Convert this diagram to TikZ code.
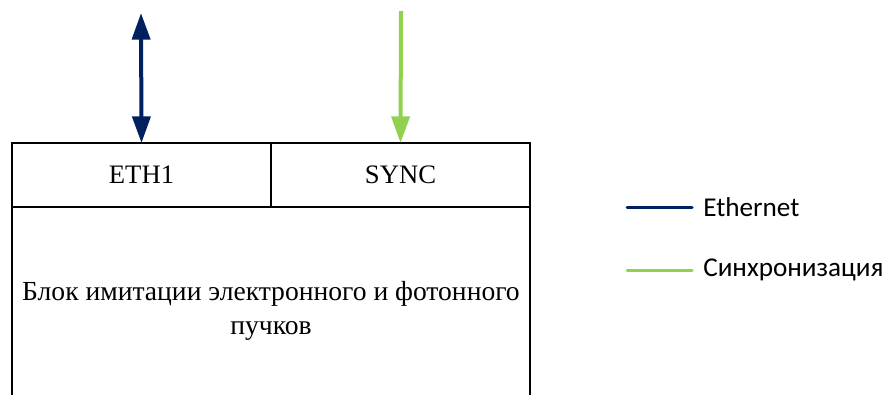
\documentclass[tikz,border=0pt]{standalone}
\usepackage{fontspec}
\setmainfont{Liberation Serif}
\newfontfamily\legendfont{Carlito}
\usetikzlibrary{arrows.meta,positioning}
\definecolor{ethblue}{HTML}{002060}
\definecolor{syncgreen}{HTML}{92D050}
\tikzset{
  >={Triangle[width=13.5pt,length=20pt]},
  port/.style={draw, line width=0.9pt, outer sep=0pt, inner sep=0pt,
    minimum width=194.25pt, minimum height=48pt,
    font=\fontsize{20}{24}\selectfont},
  ethlink/.style={ethblue, line width=3pt},
  synclink/.style={syncgreen, line width=3pt},
  keyline/.style={line width=2.25pt, line cap=round},
  legendtext/.style={anchor=west, inner xsep=8.25pt,
    font=\legendfont\fontsize{20.4}{23}\selectfont}
}
\begin{document}
\begin{tikzpicture}[x=0.75pt,y=-0.75pt]
  \useasboundingbox (0,0) rectangle (884,394);
  \clip (0,0) rectangle (884,394);
  % ports on top of the block
  \node[port,anchor=north west] (eth) at (12,143) {ETH1};
  \node[port,right=0pt of eth] (sync) {SYNC};
  % block body, open at the bottom
  \draw[line width=0.9pt] (eth.south west) -- ++(0,220);
  \draw[line width=0.9pt] (sync.south east) -- ++(0,220);
  \node[align=center, font=\fontsize{20.7}{25.8}\selectfont] (block) at (271,311)
    {Блок имитации электронного и фотонного\\пучков};
  % links
  \coordinate (ethtop) at (141,13);
  \coordinate (synctop) at (401,11);
  \draw[ethlink, <->] (ethtop) -- (eth.north);
  \draw[synclink, ->] (synctop) -- (sync.north);
  % legend
  \coordinate (ethkey) at (627,207);
  \coordinate (synckey) at (627,270);
  \node[legendtext] (ethlabel) at (692,207) {Ethernet};
  \node[legendtext] (synclabel) at (692,270) {Синхронизация};
  \draw[ethlink, keyline] (ethkey) -- (ethlabel.west);
  \draw[synclink, keyline] (synckey) -- (synclabel.west);
\end{tikzpicture}
\end{document}
